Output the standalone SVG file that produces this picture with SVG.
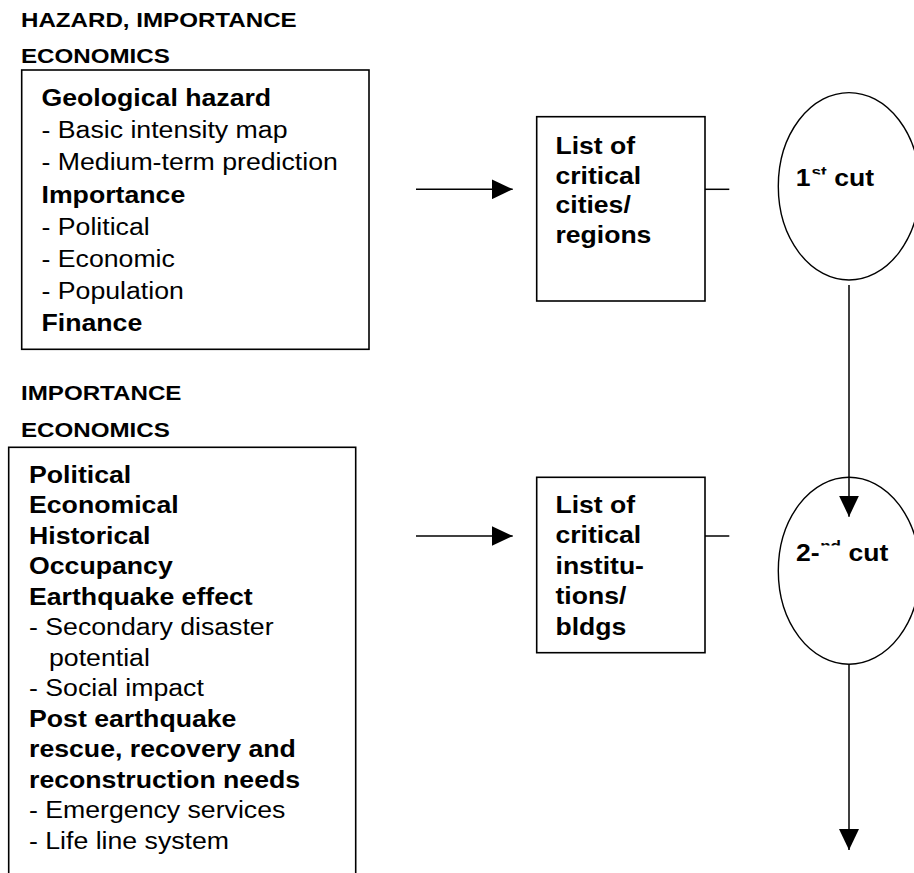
<svg xmlns="http://www.w3.org/2000/svg" width="914" height="873" viewBox="0 0 914 873">
  <style>
    text { font-family: "Liberation Sans", Arial, sans-serif; fill: #000; }
    .h { font-size: 21px; font-weight: bold; }
    .b { font-size: 23.3px; font-weight: bold; }
    .r { font-size: 23.3px; font-weight: normal; }
    .sup { font-size: 15px; font-weight: bold; }
    .box { fill: #fff; stroke: #000; stroke-width: 1.6; }
    .ell { fill: #fff; stroke: #000; stroke-width: 1.4; }
    .ln { fill: none; stroke: #000; stroke-width: 1.5; }
  </style>
  <defs>
    <marker id="arr" markerUnits="userSpaceOnUse" markerWidth="21" markerHeight="20" refX="21" refY="10" orient="auto" viewBox="0 0 21 20">
      <path d="M0,0 L21,10 L0,20 Z" fill="#000"/>
    </marker>
    <clipPath id="clip1" clipPathUnits="userSpaceOnUse">
      <rect x="785" y="150" width="26" height="50"/>
      <rect x="811" y="150" width="20" height="24.5"/>
      <rect x="831" y="150" width="70" height="50"/>
    </clipPath>
    <clipPath id="clip2" clipPathUnits="userSpaceOnUse">
      <rect x="785" y="530" width="34.5" height="50"/>
      <rect x="819.5" y="530" width="24" height="15.5"/>
      <rect x="843.5" y="530" width="70" height="50"/>
    </clipPath>
  </defs>

  <g id="heading-top">
    <text class="h" transform="matrix(1.15 0 0 1 21 0)" x="0" y="26.7">HAZARD, IMPORTANCE</text>
    <text class="h" transform="matrix(1.15 0 0 1 21 0)" x="0" y="63.3">ECONOMICS</text>
  </g>

  <g id="box-hazard">
    <rect class="box" x="21.7" y="70" width="347.3" height="279.3"/>
    <g transform="matrix(1.145 0 0 1 41.5 0)">
      <text class="b" x="0" y="106">Geological hazard</text>
      <text class="r" x="0" y="138.2">- Basic intensity map</text>
      <text class="r" x="0" y="170.4">- Medium-term prediction</text>
      <text class="b" x="0" y="202.6">Importance</text>
      <text class="r" x="0" y="234.8">- Political</text>
      <text class="r" x="0" y="267">- Economic</text>
      <text class="r" x="0" y="299.2">- Population</text>
      <text class="b" x="0" y="331.4">Finance</text>
    </g>
  </g>

  <g id="heading-bottom">
    <text class="h" transform="matrix(1.15 0 0 1 21 0)" x="0" y="400">IMPORTANCE</text>
    <text class="h" transform="matrix(1.15 0 0 1 21 0)" x="0" y="436.7">ECONOMICS</text>
  </g>

  <g id="box-importance">
    <rect class="box" x="8.7" y="447.3" width="347" height="500"/>
    <g transform="matrix(1.145 0 0 1 29 0)">
      <text class="b" x="0" y="483">Political</text>
      <text class="b" x="0" y="513.5">Economical</text>
      <text class="b" x="0" y="544">Historical</text>
      <text class="b" x="0" y="574.5">Occupancy</text>
      <text class="b" x="0" y="605">Earthquake effect</text>
      <text class="r" x="0" y="635.5">- Secondary disaster</text>
      <text class="r" x="17.5" y="666">potential</text>
      <text class="r" x="0" y="696.5">- Social impact</text>
      <text class="b" x="0" y="727">Post earthquake</text>
      <text class="b" x="0" y="757.5">rescue, recovery and</text>
      <text class="b" x="0" y="788">reconstruction needs</text>
      <text class="r" x="0" y="818.5">- Emergency services</text>
      <text class="r" x="0" y="849">- Life line system</text>
    </g>
  </g>

  <g id="box-cities">
    <rect class="box" x="536.7" y="116.7" width="168.3" height="184.3"/>
    <g transform="matrix(1.14 0 0 1 555.5 0)">
      <text class="b" x="0" y="154">List of</text>
      <text class="b" x="0" y="183.6">critical</text>
      <text class="b" x="0" y="213.2">cities/</text>
      <text class="b" x="0" y="242.8">regions</text>
    </g>
  </g>

  <g id="box-institutions">
    <rect class="box" x="536.7" y="477.3" width="168.3" height="175.4"/>
    <g transform="matrix(1.14 0 0 1 555.5 0)">
      <text class="b" x="0" y="512.7">List of</text>
      <text class="b" x="0" y="543.2">critical</text>
      <text class="b" x="0" y="573.7">institu-</text>
      <text class="b" x="0" y="604.2">tions/</text>
      <text class="b" x="0" y="634.7">bldgs</text>
    </g>
  </g>

  <g id="cut-1">
    <ellipse class="ell" cx="849" cy="186.3" rx="70.7" ry="93.7"/>
    <g clip-path="url(#clip1)">
      <text class="b" transform="matrix(1.14 0 0 1 795.7 0)" x="0" y="186">1<tspan class="sup" dx="1" dy="-9">st</tspan><tspan class="b" dy="9"> cut</tspan></text>
    </g>
  </g>

  <g id="cut-2">
    <ellipse class="ell" cx="849" cy="570.8" rx="70.7" ry="93.5"/>
    <g clip-path="url(#clip2)">
      <text class="b" transform="matrix(1.14 0 0 1 796 0)" x="0" y="561">2-<tspan class="sup" dx="0.5" dy="-10">nd</tspan><tspan class="b" dy="10"> cut</tspan></text>
    </g>
  </g>

  <g id="connectors">
    <line class="ln" x1="416" y1="189.3" x2="512.7" y2="189.3" marker-end="url(#arr)"/>
    <line class="ln" x1="705" y1="189.3" x2="729.3" y2="189.3"/>
    <line class="ln" x1="849" y1="285" x2="849" y2="516.7" marker-end="url(#arr)"/>
    <line class="ln" x1="416" y1="536" x2="512.7" y2="536" marker-end="url(#arr)"/>
    <line class="ln" x1="705" y1="536" x2="729.3" y2="536"/>
    <line class="ln" x1="849" y1="664.3" x2="849" y2="850" marker-end="url(#arr)"/>
  </g>
</svg>
